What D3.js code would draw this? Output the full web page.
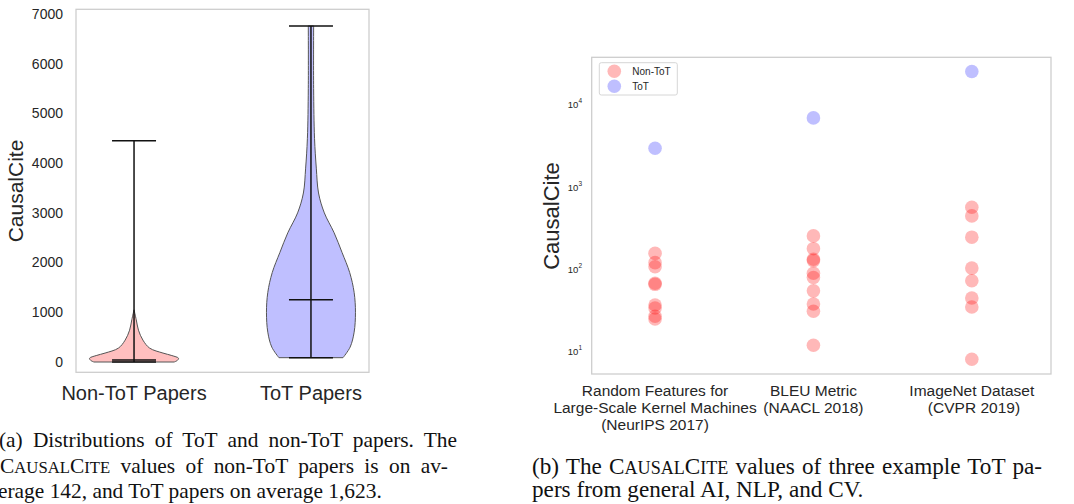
<!DOCTYPE html>
<html>
<head>
<meta charset="utf-8">
<script src="https://cdn.jsdelivr.net/npm/d3@7"></script>
<style>
  body { margin: 0; background: #fff; }
  svg { display: block; }
  text { white-space: pre; }
</style>
</head>
<body>
<svg id="fig" width="1074" height="504"></svg>
<script>
// ---- (a) violin data ----
const groups = ["Non-ToT Papers", "ToT Papers"];
const violinTicks = [0, 1000, 2000, 3000, 4000, 5000, 6000, 7000];
// density profiles (value, relative half-width)
const nonTotLevels  = [0, 30, 75, 130, 180, 280, 440, 640, 850, 1050];
const nonTotDensity = [0.9, 0.97, 1.0, 0.85, 0.65, 0.35, 0.2, 0.1, 0.05, 0.0];
const totLevels  = [87, 300, 600, 1000, 1400, 1800, 2200, 2600, 3000, 3400, 3900, 4500, 5500, 6760];
const totDensity = [0.72, 0.88, 0.97, 1.0, 0.97, 0.87, 0.7, 0.52, 0.3, 0.17, 0.12, 0.08, 0.06, 0.06];
const statMin = [0, 87];
const statMid = [40, 1250];
const statMax = [4450, 6760];

// ---- (b) scatter data ----
const examples = [
  ["Random Features for", "Large-Scale Kernel Machines", "(NeurIPS 2017)"],
  ["BLEU Metric", "(NAACL 2018)"],
  ["ImageNet Dataset", " (CVPR 2019)"]
];
const nonTotCites = [
  [157, 121, 108, 68, 66, 37, 34, 27, 25],
  [256, 179, 133, 128, 90, 80, 55, 38, 31, 12],
  [571, 448, 247, 104, 73, 45, 35, 8.1]
];
const totCites = [2980, 6970, 25500];
const logTicks = [10, 100, 1000, 10000];
const legendNames = ["Non-ToT", "ToT"];

const sans = "'Liberation Sans', Arial, sans-serif";
const serif = "'Liberation Serif', 'Times New Roman', serif";
const ink = "#262626";
const svg = d3.select("#fig");

// ================= panel (a) =================
const xA = d3.scaleLinear().domain([0.672, 2.328]).range([76, 369]);
const yA = d3.scaleLinear().domain([-207, 7095]).range([372.3, 9.3]);
const wA = d3.scaleLinear().domain([0, 1]).range([0, 44.5]);

const pa = svg.append("g");

pa.append("rect")
  .attr("x", xA.range()[0]).attr("y", yA.range()[1])
  .attr("width", xA.range()[1] - xA.range()[0])
  .attr("height", yA.range()[0] - yA.range()[1])
  .attr("fill", "none").attr("stroke", "#cccccc").attr("stroke-width", 1.25);

pa.selectAll("text.ytick").data(violinTicks).enter().append("text")
  .attr("class", "ytick")
  .attr("x", 63).attr("y", d => yA(d))
  .attr("dy", "0.35em").attr("text-anchor", "end")
  .attr("font-family", sans).attr("font-size", 14).attr("fill", ink)
  .text(d => d);

pa.append("text")
  .attr("transform", "translate(" + 23 + "," + 191 + ") rotate(-90)")
  .attr("text-anchor", "middle")
  .attr("font-family", sans).attr("font-size", 21).attr("fill", ink)
  .text("CausalCite");

pa.selectAll("text.xlab").data(groups).enter().append("text")
  .attr("class", "xlab")
  .attr("x", (d, i) => xA(i + 1)).attr("y", 400)
  .attr("text-anchor", "middle")
  .attr("font-family", sans).attr("font-size", 20).attr("fill", ink)
  .text(d => d);

const profiles = [
  { levels: nonTotLevels, dens: nonTotDensity, fill: "red" },
  { levels: totLevels, dens: totDensity, fill: "blue" }
];

profiles.forEach(function(p, i) {
  const cx = xA(i + 1);
  const pts = p.levels.map((v, k) => [v, p.dens[k]]);
  const area = d3.area()
    .curve(d3.curveCatmullRom)
    .y(d => yA(d[0]))
    .x0(d => cx - wA(d[1]))
    .x1(d => cx + wA(d[1]));
  pa.append("path")
    .attr("d", area(pts))
    .attr("fill", p.fill).attr("fill-opacity", 0.25)
    .attr("stroke", "#555").attr("stroke-width", 1);

  // extrema + middle bars
  pa.append("line")
    .attr("x1", cx).attr("x2", cx)
    .attr("y1", yA(statMin[i])).attr("y2", yA(statMax[i]))
    .attr("stroke", "#111").attr("stroke-width", 1.5);
  [statMin[i], statMid[i], statMax[i]].forEach(function(v) {
    pa.append("line")
      .attr("x1", cx - 22).attr("x2", cx + 22)
      .attr("y1", yA(v)).attr("y2", yA(v))
      .attr("stroke", "#111").attr("stroke-width", 1.5);
  });
});

// ================= panel (b) =================
const xB = d3.scaleLinear().domain([-0.4, 2.5]).range([591.7, 1051]);
const yB = d3.scaleLog().domain([5.36, 38000]).range([374, 57.3]);
const r = 6.8;

const pb = svg.append("g");

pb.append("rect")
  .attr("x", xB.range()[0]).attr("y", yB.range()[1])
  .attr("width", xB.range()[1] - xB.range()[0])
  .attr("height", yB.range()[0] - yB.range()[1])
  .attr("fill", "none").attr("stroke", "#cccccc").attr("stroke-width", 1.25);

const yt = pb.selectAll("text.ytick").data(logTicks).enter().append("text")
  .attr("class", "ytick")
  .attr("x", 582).attr("y", d => yB(d))
  .attr("dy", "0.35em").attr("text-anchor", "end")
  .attr("font-family", sans).attr("font-size", 9.5).attr("fill", ink);
yt.append("tspan").text("10");
yt.append("tspan").attr("dy", -5).attr("font-size", 6.5).text(d => Math.round(Math.log10(d)));

pb.append("text")
  .attr("transform", "translate(" + 559 + "," + 216 + ") rotate(-90)")
  .attr("text-anchor", "middle")
  .attr("font-family", sans).attr("font-size", 22).attr("fill", ink)
  .text("CausalCite");

examples.forEach(function(lines, i) {
  const t = pb.append("text")
    .attr("x", xB(i)).attr("y", 396)
    .attr("text-anchor", "middle")
    .attr("font-family", sans).attr("font-size", 15.5).attr("fill", ink);
  lines.forEach(function(s, k) {
    t.append("tspan").attr("x", xB(i)).attr("y", 396 + k * 17).text(s);
  });
});

nonTotCites.forEach(function(vals, i) {
  pb.selectAll(null).data(vals).enter().append("circle")
    .attr("cx", xB(i)).attr("cy", d => yB(d)).attr("r", r)
    .attr("fill", "red").attr("fill-opacity", 0.28);
});
pb.selectAll("circle.tot").data(totCites).enter().append("circle")
  .attr("class", "tot")
  .attr("cx", (d, i) => xB(i)).attr("cy", d => yB(d)).attr("r", r)
  .attr("fill", "blue").attr("fill-opacity", 0.25);

// legend
const lg = pb.append("g").attr("transform", "translate(599.3,62.7)");
lg.append("rect")
  .attr("width", 78).attr("height", 32.3).attr("rx", 2)
  .attr("fill", "#fff").attr("fill-opacity", 0.8)
  .attr("stroke", "#d6d6d6").attr("stroke-width", 1);
legendNames.forEach(function(name, k) {
  lg.append("circle")
    .attr("cx", 15).attr("cy", 8.5 + k * 15).attr("r", r)
    .attr("fill", k ? "blue" : "red").attr("fill-opacity", k ? 0.25 : 0.28);
  lg.append("text")
    .attr("x", 33).attr("y", 8.5 + k * 15).attr("dy", "0.35em")
    .attr("font-family", sans).attr("font-size", 10).attr("fill", ink)
    .text(name);
});

// ================= captions =================
// parts: [text, smallcaps?]
function captionLine(x, y, size, parts, width) {
  const t = svg.append("text")
    .attr("x", x).attr("y", y)
    .attr("font-family", serif).attr("font-size", size).attr("fill", "#111");
  parts.forEach(function(p) {
    const s = t.append("tspan").text(p[0]);
    if (p[1]) s.attr("font-size", size * 0.78);
  });
  if (width) {
    const natural = t.node().getComputedTextLength();
    const spaces = parts.map(p => p[0]).join("").split(" ").length - 1;
    t.attr("word-spacing", Math.max(0, (width - natural) / spaces));
  }
}
const causalCite = [["C"], ["AUSAL", true], ["C"], ["ITE", true]];

captionLine(-1, 447, 21.4, [["(a) Distributions of ToT and non-ToT papers. The"]], 458);
captionLine(0, 472.5, 21.4, causalCite.concat([[" values of non-ToT papers is on av-"]]), 448);
captionLine(-2, 497.5, 21.4, [["erage 142, and ToT papers on average 1,623."]]);
captionLine(532, 474, 23.2, [["(b) The "]].concat(causalCite, [[" values of three example ToT pa-"]]), 510);
captionLine(532, 496.5, 23.2, [["pers from general AI, NLP, and CV."]]);
</script>
</body>
</html>
